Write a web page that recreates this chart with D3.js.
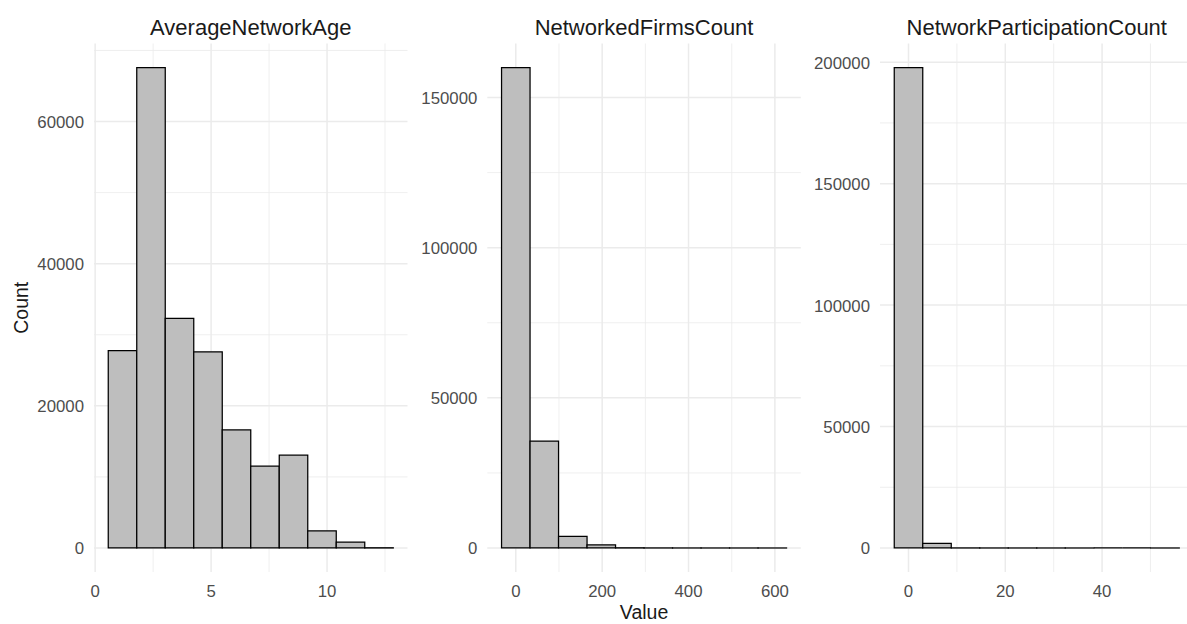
<!DOCTYPE html>
<html>
<head>
<meta charset="utf-8">
<script src="https://cdn.jsdelivr.net/npm/d3@7"></script>
<style>
  html, body { margin: 0; padding: 0; background: #ffffff; }
  svg { display: block; font-family: "Liberation Sans", Arial, sans-serif; }
</style>
</head>
<body>
<svg id="chart" width="1187" height="624"></svg>
<script>
// Facet titles
const facetTitles = ["AverageNetworkAge", "NetworkedFirmsCount", "NetworkParticipationCount"];

// Observed value range of each variable (10 bins spread over it)
const ageLimits = [1.18, 12.24];
const firmsLimits = [0, 594];
const participationLimits = [0, 53];

// Bin counts, 10 bins per variable
const ageCounts = [27750, 67600, 32300, 27600, 16600, 11500, 13050, 2420, 830, 30];
const firmsCounts = [160000, 35600, 3850, 1050, 60, 20, 8, 3, 1, 1];
const participationCounts = [197800, 1900, 30, 8, 3, 1, 1, 0, 0, 1];

// Axis tick values
const ageXTicks = [0, 5, 10];
const firmsXTicks = [0, 200, 400, 600];
const participationXTicks = [0, 20, 40];
const ageYTicks = [0, 20000, 40000, 60000];
const firmsYTicks = [0, 50000, 100000, 150000];
const participationYTicks = [0, 50000, 100000, 150000, 200000];

const nBins = 10;

const panels = [
  { title: facetTitles[0], limits: ageLimits, counts: ageCounts, xTicks: ageXTicks, yTicks: ageYTicks },
  { title: facetTitles[1], limits: firmsLimits, counts: firmsCounts, xTicks: firmsXTicks, yTicks: firmsYTicks },
  { title: facetTitles[2], limits: participationLimits, counts: participationCounts, xTicks: participationXTicks, yTicks: participationYTicks }
];

// Layout
const panelLefts = [94, 487.3, 880];
const panelW = 313.5;
const panelTop = 43.5, panelBottom = 572;

const gridCol = "#EBEBEB";
const tickCol = "#4D4D4D";
const textCol = "#1A1A1A";

const svg = d3.select("#chart");

// Minor breaks sit halfway between major breaks (also one step beyond each end)
function minorBreaks(ticks, domain) {
  const step = ticks[1] - ticks[0];
  const out = [];
  for (let v = ticks[0] - step / 2; v <= ticks[ticks.length - 1] + step; v += step) {
    if (v >= domain[0] && v <= domain[1]) out.push(v);
  }
  return out;
}

panels.forEach((p, i) => {
  const left = panelLefts[i];
  const right = left + panelW;

  // Bins: width = range/(bins-1), first bin centred on the minimum
  const bw = (p.limits[1] - p.limits[0]) / (nBins - 1);
  const lo = p.limits[0] - bw / 2;
  const bins = p.counts.map((c, k) => ({ x0: lo + k * bw, x1: lo + (k + 1) * bw, count: c }));
  const hi = bins[bins.length - 1].x1;
  const padX = (hi - lo) * 0.05;
  const x = d3.scaleLinear().domain([lo - padX, hi + padX]).range([left, right]);

  const maxC = d3.max(p.counts);
  const y = d3.scaleLinear().domain([-0.05 * maxC, 1.05 * maxC]).range([panelBottom, panelTop]);

  const g = svg.append("g");

  // Minor gridlines
  minorBreaks(p.xTicks, x.domain()).forEach(v => {
    g.append("line").attr("x1", x(v)).attr("x2", x(v)).attr("y1", panelTop).attr("y2", panelBottom)
      .attr("stroke", gridCol).attr("stroke-width", 0.8);
  });
  minorBreaks(p.yTicks, y.domain()).forEach(v => {
    g.append("line").attr("x1", left).attr("x2", right).attr("y1", y(v)).attr("y2", y(v))
      .attr("stroke", gridCol).attr("stroke-width", 0.8);
  });
  // Major gridlines
  p.xTicks.forEach(v => {
    g.append("line").attr("x1", x(v)).attr("x2", x(v)).attr("y1", panelTop).attr("y2", panelBottom)
      .attr("stroke", gridCol).attr("stroke-width", 1.5);
  });
  p.yTicks.forEach(v => {
    g.append("line").attr("x1", left).attr("x2", right).attr("y1", y(v)).attr("y2", y(v))
      .attr("stroke", gridCol).attr("stroke-width", 1.5);
  });

  // Histogram bars as closed paths, so empty bins still show their outline on the baseline
  const barPath = d => {
    const pth = d3.path();
    pth.moveTo(x(d.x0), y(0));
    pth.lineTo(x(d.x0), y(d.count));
    pth.lineTo(x(d.x1), y(d.count));
    pth.lineTo(x(d.x1), y(0));
    pth.closePath();
    return pth.toString();
  };
  g.selectAll("path.bar").data(bins).enter().append("path")
    .attr("class", "bar")
    .attr("d", barPath)
    .attr("fill", "#BEBEBE")
    .attr("stroke", "#000000")
    .attr("stroke-width", 1.25)
    .attr("stroke-linejoin", "miter");

  // Tick labels
  p.xTicks.forEach(v => {
    g.append("text").attr("x", x(v)).attr("y", 597)
      .attr("text-anchor", "middle").attr("font-size", "16.8px").attr("fill", tickCol)
      .text(v);
  });
  p.yTicks.forEach(v => {
    g.append("text").attr("x", left - 10).attr("y", y(v) + 6.5)
      .attr("text-anchor", "end").attr("font-size", "16.8px").attr("fill", tickCol)
      .text(v);
  });

  // Facet title
  g.append("text").attr("x", (left + right) / 2).attr("y", 35)
    .attr("text-anchor", "middle").attr("font-size", "22px").attr("fill", textCol)
    .text(p.title);
});

// Axis titles
svg.append("text")
  .attr("transform", `translate(27.5, ${(panelTop + panelBottom) / 2}) rotate(-90)`)
  .attr("text-anchor", "middle").attr("font-size", "19.5px").attr("fill", textCol)
  .text("Count");
svg.append("text")
  .attr("x", panelLefts[1] + panelW / 2).attr("y", 619)
  .attr("text-anchor", "middle").attr("font-size", "19.5px").attr("fill", textCol)
  .text("Value");
</script>
</body>
</html>
